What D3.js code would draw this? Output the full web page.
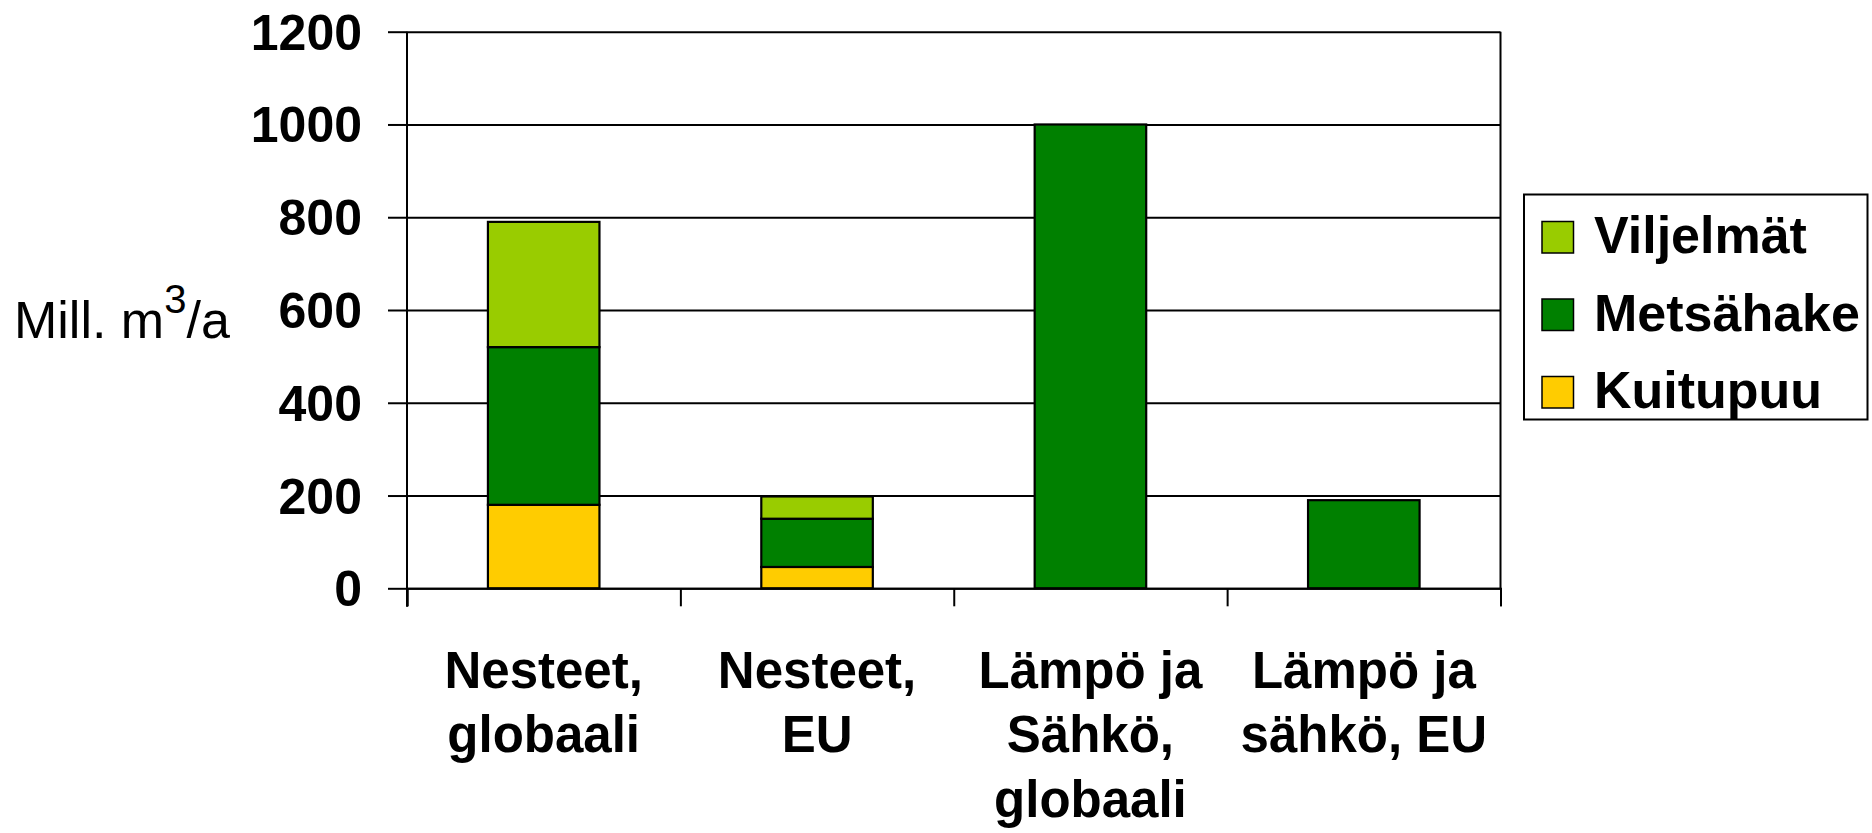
<!DOCTYPE html>
<html>
<head>
<meta charset="utf-8">
<script src="https://cdn.jsdelivr.net/npm/d3@7/dist/d3.min.js"></script>
<style>
  html, body { margin: 0; padding: 0; background: #fff; }
  svg { display: block; font-family: "Liberation Sans", Arial, sans-serif; }
</style>
</head>
<body>
<svg id="chart" width="1872" height="833"></svg>
<script>
// ---- data ----
const categories = ["Nesteet,\nglobaali", "Nesteet,\nEU", "Lämpö ja\nSähkö,\nglobaali", "Lämpö ja\nsähkö, EU"];
const seriesNames = ["Kuitupuu", "Metsähake", "Viljelmät"];   // bottom to top
const kuitupuu  = [180, 46, 0, 0];
const metsahake = [340, 104, 1000, 190];
const viljelmat = [270, 48, 0, 0];
const yTicks = [0, 200, 400, 600, 800, 1000, 1200];
const legendOrder = ["Viljelmät", "Metsähake", "Kuitupuu"];
const colors = { "Viljelmät": "#99CC00", "Metsähake": "#008000", "Kuitupuu": "#FFCC00" };
const yTitle = { main: "Mill. m", sup: "3", tail: "/a" };

// ---- layout ----
const plot = { left: 407, right: 1500.5, top: 31.7, bottom: 588.3 };
const svg = d3.select("#chart");

const rows = categories.map((c, i) => ({
  cat: c, "Kuitupuu": kuitupuu[i], "Metsähake": metsahake[i], "Viljelmät": viljelmat[i]
}));

const x = d3.scaleBand().domain(categories).range([plot.left, plot.right])
  .paddingInner(0.592).paddingOuter(0.296);
const xEdge = d3.scaleLinear().domain([0, categories.length]).range([plot.left, plot.right]);
const y = d3.scaleLinear().domain([0, 1200]).range([plot.bottom, plot.top]);

// gridlines
const grid = svg.append("g").attr("transform", `translate(${plot.left},0)`)
  .call(d3.axisLeft(y).tickValues(yTicks).tickSize(-(plot.right - plot.left)).tickFormat(""));
grid.select(".domain").remove();
grid.selectAll("line").attr("stroke", "#000").attr("stroke-width", 2);

// right frame
svg.append("line").attr("x1", plot.right).attr("x2", plot.right)
  .attr("y1", y(1200)).attr("y2", y(0)).attr("stroke", "#000").attr("stroke-width", 2);

// bars
const stack = d3.stack().keys(seriesNames)(rows);
svg.append("g").selectAll("g").data(stack).join("g")
  .attr("fill", d => colors[d.key])
  .selectAll("rect").data(d => d.filter(s => s[1] > s[0])).join("rect")
  .attr("x", d => x(d.data.cat))
  .attr("width", x.bandwidth())
  .attr("y", d => y(d[1]))
  .attr("height", d => y(d[0]) - y(d[1]))
  .attr("stroke", "#000").attr("stroke-width", 2.2);

// y axis
const yAxis = svg.append("g").attr("transform", `translate(${plot.left},0)`)
  .call(d3.axisLeft(y).tickValues(yTicks).tickFormat(d3.format("d")).tickSize(19).tickPadding(26));
yAxis.select(".domain").remove();
yAxis.selectAll("line").attr("stroke", "#000").attr("stroke-width", 2);
yAxis.selectAll("text").attr("font-size", 50).attr("font-weight", "bold")
  .attr("fill", "#000").attr("dy", "0.35em")
  .attr("font-family", "'Liberation Sans', Arial, sans-serif");
svg.append("line").attr("x1", plot.left).attr("x2", plot.left)
  .attr("y1", y(1200)).attr("y2", plot.bottom + 18.4).attr("stroke", "#000").attr("stroke-width", 2);

// x axis (category boundary ticks)
const xAxis = svg.append("g").attr("transform", `translate(0,${plot.bottom})`)
  .call(d3.axisBottom(xEdge).tickValues(d3.range(0, categories.length + 1)).tickSize(18).tickFormat(""));
xAxis.select(".domain").attr("stroke", "#000").attr("stroke-width", 2);
xAxis.selectAll("line").attr("stroke", "#000").attr("stroke-width", 2);

// category labels
const catG = svg.append("g");
categories.forEach(c => {
  const t = catG.append("text")
    .attr("x", x(c) + x.bandwidth() / 2).attr("y", 687.5)
    .attr("text-anchor", "middle").attr("font-size", 51).attr("font-weight", "bold").attr("fill", "#000");
  c.split("\n").forEach((line, i) => {
    t.append("tspan").attr("x", x(c) + x.bandwidth() / 2).attr("dy", i === 0 ? 0 : 64.5).text(line);
  });
});

// y title
const yt = svg.append("text").attr("x", 14).attr("y", 338).attr("font-size", 52).attr("fill", "#000");
yt.append("tspan").text(yTitle.main);
yt.append("tspan").attr("font-size", 40).attr("dy", -25).text(yTitle.sup);
yt.append("tspan").attr("dy", 25).text(yTitle.tail);

// legend
const lg = svg.append("g");
lg.append("rect").attr("x", 1524).attr("y", 194.5).attr("width", 343.5).attr("height", 225)
  .attr("fill", "#fff").attr("stroke", "#000").attr("stroke-width", 2);
legendOrder.forEach((name, i) => {
  const by = 253 + i * 77.5;
  lg.append("rect").attr("x", 1542).attr("y", by - 31.5).attr("width", 31.5).attr("height", 31.5)
    .attr("fill", colors[name]).attr("stroke", "#000").attr("stroke-width", 1.5);
  lg.append("text").attr("x", 1594).attr("y", by).attr("font-size", 52).attr("font-weight", "bold")
    .attr("fill", "#000").text(name);
});
</script>
</body>
</html>
